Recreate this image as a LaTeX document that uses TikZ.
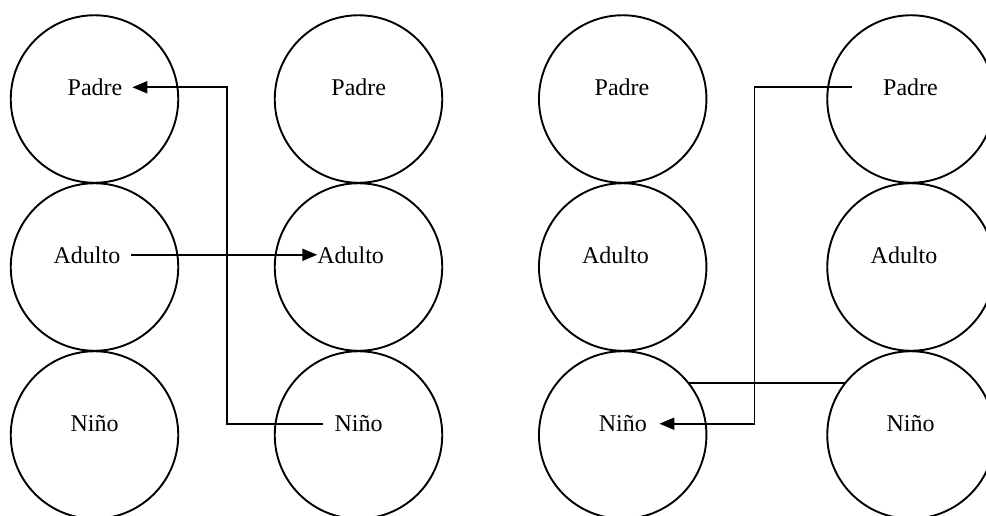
\documentclass[tikz,border=0pt]{standalone}
\usepackage{fontspec}
\setmainfont{Liberation Serif}
\usetikzlibrary{arrows.meta}
\begin{document}
\begin{tikzpicture}[x=1pt,y=-1pt,
  ring/.style={draw, circle, minimum size=167.5pt, inner sep=0pt, line width=1.9pt},
  lbl/.style={anchor=base, inner sep=0pt, outer sep=0pt, font=\fontsize{24}{28}\selectfont},
  conn/.style={line width=1.9pt},
  arr/.style={conn, -{Triangle[length=15pt,width=12pt]}}]
\useasboundingbox (0,0) rectangle (986,515);
% circles
\node[ring] (c11) at (94.5,99) {};
\node[ring] (c12) at (94.5,267) {};
\node[ring] (c13) at (94.5,435) {};
\node[ring] (c21) at (358.5,99) {};
\node[ring] (c22) at (358.5,267) {};
\node[ring] (c23) at (358.5,435) {};
\node[ring] (c31) at (622.7,99) {};
\node[ring] (c32) at (622.7,267) {};
\node[ring] (c33) at (622.7,435) {};
\node[ring] (c41) at (911,99) {};
\node[ring] (c42) at (911,267) {};
\node[ring] (c43) at (911,435) {};
% labels
\node[lbl] (p1) at (95,95.5) {Padre};
\node[lbl] (a1) at (87,263) {Adulto};
\node[lbl] (n1) at (94.5,431.7) {Niño};
\node[lbl] (p2) at (358.8,95.5) {Padre};
\node[lbl] (a2) at (350.6,263) {Adulto};
\node[lbl] (n2) at (358.5,431.7) {Niño};
\node[lbl] (p3) at (622,95.5) {Padre};
\node[lbl] (a3) at (615.5,263) {Adulto};
\node[lbl] (n3) at (622.8,431.7) {Niño};
\node[lbl] (p4) at (910.5,95.5) {Padre};
\node[lbl] (a4) at (904,263) {Adulto};
\node[lbl] (n4) at (910.5,431.7) {Niño};
% left connectors
\coordinate (s1) at ([xshift=-12pt]n2.west);
\coordinate (e1) at ([xshift=10pt]p1.east);
\draw[arr] (s1) -- (227,0 |- s1) |- (e1);
\draw[arr] ([xshift=11pt]a1.east) -- (a2.west);
% right connectors
\coordinate (s2) at ([xshift=-31pt]p4.west);
\coordinate (e2) at ([xshift=12.6pt]n3.east);
\draw[arr] (s2) -- (754.5,0 |- s2) |- (e2);
\draw[conn] (c33.38.2) -- (c33.38.2 -| c43.141.8);
\end{tikzpicture}
\end{document}
